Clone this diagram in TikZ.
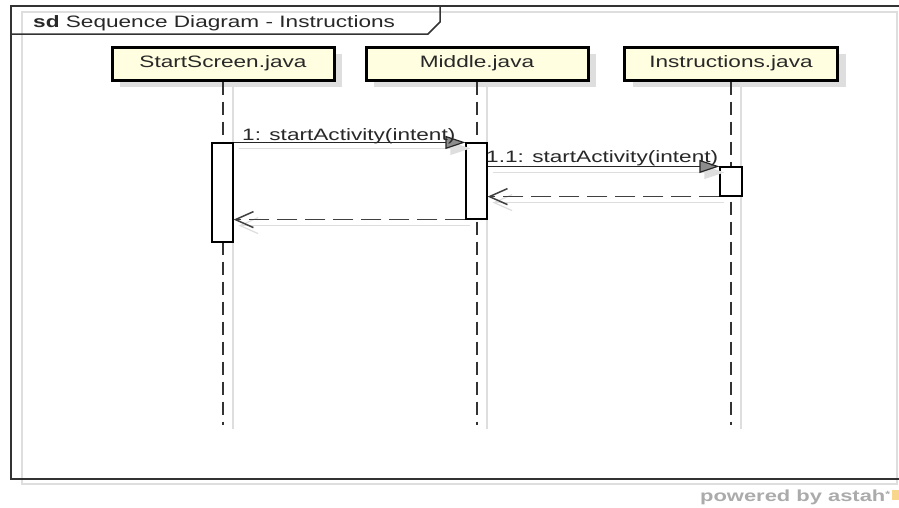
\documentclass[tikz,border=0pt]{standalone}
\usepackage{fontspec}
\newfontfamily\diafont[FakeStretch=1.37]{Liberation Sans}
\usetikzlibrary{arrows.meta,shadows,calc}

\definecolor{boxfill}{RGB}{255,254,224}
\definecolor{inkgray}{RGB}{40,40,40}
\definecolor{shade}{RGB}{222,222,222}
\definecolor{astahorange}{RGB}{248,215,140}

\begin{document}
\begin{tikzpicture}[x=1pt,y=-1pt,
  font=\diafont\fontsize{16.5}{19}\selectfont, text=inkgray,
  framestyle/.style={draw=black!80, line width=1.5pt},
  frameshade/.style={draw=shade, line width=1.5pt},
  lifebox/.style={draw=black, line width=3pt, fill=boxfill, minimum height=33pt,
    inner sep=0pt, text height=12pt, text depth=3.5pt,
    drop shadow={shadow xshift=8pt, shadow yshift=-7pt, fill=shade, opacity=1}},
  lifeline/.style={draw=black!80, line width=2pt, dash pattern=on 13pt off 7pt},
  lifeshade/.style={draw=shade, line width=1.5pt},
  actbar/.style={draw=black, line width=1.2pt, fill=white, inner sep=0pt},
  msgline/.style={draw=black!85, line width=1.2pt,
    -{Triangle[length=20pt,width=13pt,fill=black!45]}},
  msgshade/.style={draw=shade, line width=1.2pt,
    -{Triangle[length=20pt,width=13pt,fill=shade]}},
  retline/.style={draw=black!75, line width=1.5pt, dash pattern=on 20pt off 8pt,
    -{Straight Barb[length=18pt,width=16pt]}},
  retshade/.style={draw=shade, line width=1.2pt,
    -{Straight Barb[length=18pt,width=16pt]}},
  lbl/.style={inner sep=0pt, text=inkgray}
]
\useasboundingbox (0,0) rectangle (899,507);
\clip (0,0) rectangle (899,507);
\fill[white] (0,0) rectangle (899,507);

% frame of the interaction, with its light offset outline
\draw[frameshade] (22,12) rectangle (897,484);
\draw[framestyle] (11,6) rectangle (920,479);
\draw[framestyle] (11,34) -- (428,34) -- (440,22) -- (440,6);
\node[anchor=base west, inner sep=0pt] (title) at (33,27.5)
  {\textbf{sd} Sequence Diagram - Instructions};

% lifeline heads
\node[lifebox, minimum width=222pt] (ss) at (223,63.5) {StartScreen.java};
\node[lifebox, minimum width=222pt] (mid) at (477,63.5) {Middle.java};
\node[lifebox, minimum width=213pt] (ins) at (731,63.5) {Instructions.java};

% lifeline ends
\coordinate (ssend) at (223,425);
\coordinate (midend) at (477,425);
\coordinate (insend) at (731,425);

% lifelines with their shadows
\begin{scope}[transform canvas={xshift=10pt,yshift=-4pt}]
  \draw[lifeshade] (ss.south) -- (ssend);
  \draw[lifeshade] (mid.south) -- (midend);
  \draw[lifeshade] (ins.south) -- (insend);
\end{scope}
\draw[lifeline] (ss.south) -- (ssend);
\draw[lifeline] (mid.south) -- (midend);
\draw[lifeline] (ins.south) -- (insend);

% execution specifications
\node[actbar, minimum width=21pt, minimum height=99pt] (act1) at (222.5,192.5) {};
\node[actbar, minimum width=21pt, minimum height=76pt] (act2) at (476.5,181) {};
\node[actbar, minimum width=22pt, minimum height=29pt] (act3) at (731,181.5) {};

% message shadows
\begin{scope}[transform canvas={xshift=5pt,yshift=-6pt}]
  \draw[msgshade] (act1.north east) -- (act2.north west);
  \draw[msgshade] (act3.north west -| act2.east) -- (act3.north west);
  \draw[retshade] (act3.south west) -- (act3.south west -| act2.east);
  \draw[retshade] (act2.south west) -- (act2.south west -| act1.east);
\end{scope}

% messages
\draw[msgline] (act1.north east) --
  node[lbl, pos=0, anchor=base west, xshift=8pt, yshift=2pt] (m1) {1: startActivity(intent)}
  (act2.north west);
\draw[msgline] (act3.north west -| act2.east) --
  node[lbl, pos=0, anchor=base west, xshift=-2pt, yshift=4pt] (m2) {1.1: startActivity(intent)}
  (act3.north west);

% replies
\draw[retline] (act3.south west) -- (act3.south west -| act2.east);
\draw[retline] (act2.south west) -- (act2.south west -| act1.east);

% tool mark
\node[anchor=base west, inner sep=0pt, text=black!33,
  font=\diafont\bfseries\fontsize{16}{19}\selectfont] (astah) at (700,501)
  {powered by astah\raisebox{4pt}{\fontsize{9}{9}\selectfont *}};
\fill[astahorange] ([xshift=2pt,yshift=11pt]astah.base east) rectangle ++(10,10);
\end{tikzpicture}
\end{document}
